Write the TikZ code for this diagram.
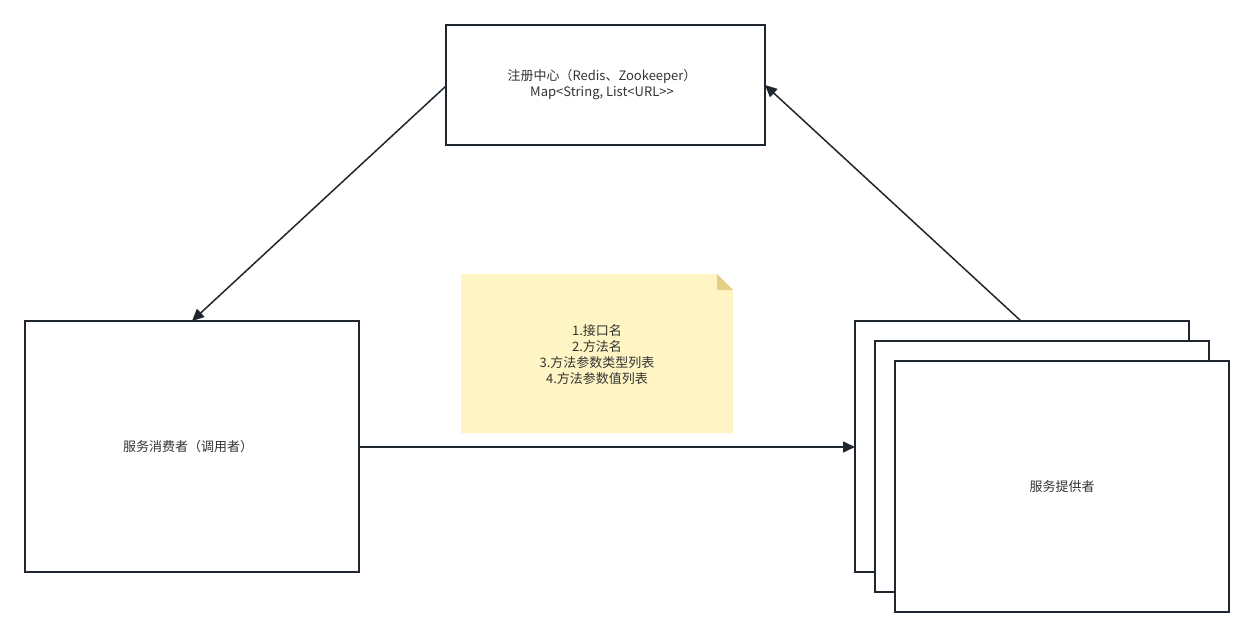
\documentclass[tikz,border=0pt]{standalone}
\usepackage{fontspec}
\setmainfont{Noto Sans CJK SC}
\usetikzlibrary{arrows.meta}
\definecolor{edge}{HTML}{1F2630}
\definecolor{txt}{HTML}{333333}
\definecolor{notefill}{HTML}{FFF4C3}
\definecolor{notefold}{HTML}{E3CF85}
\tikzset{
  box/.style={draw=edge, line width=1.5pt, fill=white, rectangle, inner sep=0pt},
  lbl/.style={text=txt, font=\fontsize{13}{16}\selectfont, align=center},
  conn/.style={draw=edge, line width=1.5pt, -{Triangle[length=12pt,width=11pt]}, shorten >=0pt},
}
\begin{document}
\begin{tikzpicture}[x=1pt,y=-1pt]
\useasboundingbox (0,0) rectangle (1254,637);
% registry
\node[box, minimum width=319pt, minimum height=120pt] (reg) at (605.5,85) {};
\node[lbl] (regt) at (602,85) {注册中心（Redis、Zookeeper）\\Map<String, List<URL>{}>};
% consumer
\node[box, minimum width=334pt, minimum height=251pt] (cons) at (192,446.5) {};
\node[lbl] (const) at (188,447) {服务消费者（调用者）};
% providers
\node[box, minimum width=334pt, minimum height=251pt] (p1) at (1022,446.5) {};
\node[box, minimum width=334pt, minimum height=251pt] (p2) at (1042,466.5) {};
\node[box, minimum width=334pt, minimum height=251pt] (p3) at (1062,486.5) {};
\node[lbl] (pt) at (1062,487) {服务提供者};
% note
\fill[notefill] (461,274) -- (717,274) -- (733,290) -- (733,433) -- (461,433) -- cycle;
\fill[notefold] (717,274) -- (733,290) -- (717,290) -- cycle;
\node[lbl] (note) at (597,355) {1.接口名\\2.方法名\\3.方法参数类型列表\\4.方法参数值列表};
% connectors
\coordinate (regL) at (446,86);
\coordinate (consT) at (192,321);
\coordinate (p1T) at (1021,321);
\coordinate (regR) at (765,85);
\coordinate (consR) at (359,447);
\coordinate (p1L) at (855,447);
\draw[conn] (regL) -- (consT);
\draw[conn] (p1T) -- (regR);
\draw[conn] (consR) -- (p1L);
\end{tikzpicture}
\end{document}
